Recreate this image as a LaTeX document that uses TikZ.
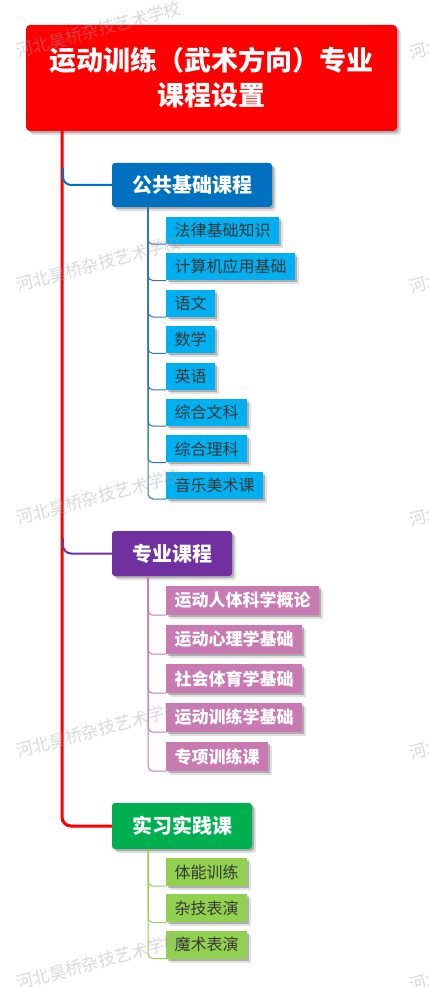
\documentclass[tikz,border=0pt]{standalone}
\usepackage{fontspec}
\newfontfamily\cjk{Noto Sans CJK SC}
\usetikzlibrary{shadows}
\definecolor{rootred}{HTML}{FF0000}
\definecolor{pubblue}{HTML}{0070C0}
\definecolor{leafblue}{HTML}{00B0F0}
\definecolor{linkblue}{HTML}{2E75B6}
\definecolor{profpurple}{HTML}{7030A0}
\definecolor{leafpink}{HTML}{C97AB2}
\definecolor{pracgreen}{HTML}{00B050}
\definecolor{leafgreen}{HTML}{92D050}
\definecolor{leaftext}{HTML}{383838}
\definecolor{wmgray}{HTML}{A0A0A0}
\begin{document}
\begin{tikzpicture}[x=1pt,y=-1pt,
  shd/.style={drop shadow={shadow xshift=4pt,shadow yshift=-4pt,opacity=0.12,fill=black},
              drop shadow={shadow xshift=2pt,shadow yshift=-2pt,opacity=0.22,fill=black}},
  rootbox/.style={shd,fill=rootred,rounded corners=4pt,minimum width=371pt,minimum height=106pt,
    text=white,align=center,font=\cjk\bfseries\fontsize{27}{35}\selectfont},
  branchbox/.style={shd,rounded corners=3pt,minimum height=45pt,inner xsep=0pt,
    text=white,font=\cjk\bfseries\fontsize{20}{24}\selectfont},
  leafbox/.style={shd,anchor=west,inner xsep=8.5pt,inner ysep=0pt,font=\cjk\fontsize{16}{19}\selectfont},
  blueleaf/.style={leafbox,fill=leafblue,text=leaftext,minimum height=27pt},
  pinkleaf/.style={leafbox,fill=leafpink,text=white,minimum height=29pt,font=\cjk\bfseries\fontsize{17}{20}\selectfont},
  greenleaf/.style={leafbox,fill=leafgreen,text=leaftext,minimum height=28pt},
  trunk/.style={rootred,line width=3pt,rounded corners=9pt},
  branchline/.style={line width=2pt,rounded corners=8pt},
  leafline/.style={line width=1pt,rounded corners=5pt},
  wm/.style={anchor=base west,rotate=15,text=wmgray,opacity=0.4,inner sep=0pt,font=\cjk\fontsize{17}{20}\selectfont}
]
\useasboundingbox[fill=white] (0,0) rectangle (428,987);

\coordinate (t0) at (62,131);
\coordinate (tb) at (63,168);
\coordinate (tp) at (63,538);
\coordinate (pubstem) at (148,207);
\coordinate (profstem) at (148,576);
\coordinate (pracstem) at (148,849);

\node[rootbox] (root) at (211.5,78) {运动训练（武术方向）专业\\课程设置};

\node[branchbox,fill=pubblue,minimum width=160pt,minimum height=44pt] (pub) at (192,185) {公共基础课程};
\node[branchbox,fill=profpurple,minimum width=120pt] (prof) at (172,553.5) {专业课程};
\node[branchbox,fill=pracgreen,minimum width=140pt,minimum height=46pt] (prac) at (182,826) {实习实践课};

% leaves
\node[blueleaf] (b1) at (166,230.5) {法律基础知识};
\node[blueleaf] (b2) at (166,266.9) {计算机应用基础};
\node[blueleaf] (b3) at (166,303.3) {语文};
\node[blueleaf] (b4) at (166,339.7) {数学};
\node[blueleaf] (b5) at (166,376.1) {英语};
\node[blueleaf] (b6) at (166,412.5) {综合文科};
\node[blueleaf] (b7) at (166,448.9) {综合理科};
\node[blueleaf] (b8) at (166,485.3) {音乐美术课};

\node[pinkleaf] (p1) at (166,600.5) {运动人体科学概论};
\node[pinkleaf] (p2) at (166,639.5) {运动心理学基础};
\node[pinkleaf] (p3) at (166,678.5) {社会体育学基础};
\node[pinkleaf] (p4) at (166,717.5) {运动训练学基础};
\node[pinkleaf] (p5) at (166,756.5) {专项训练课};

\node[greenleaf] (g1) at (166,872) {体能训练};
\node[greenleaf] (g2) at (166,908.3) {杂技表演};
\node[greenleaf] (g3) at (166,944.5) {魔术表演};

% trunk and branches
\draw[trunk] (t0) |- (prac.west);
\draw[branchline,pubblue] (tb) |- (pub.west);
\draw[branchline,profpurple] (tp) |- (prof.west);

\foreach \n in {b1,b2,b3,b4,b5,b6,b7,b8}
  \draw[leafline,linkblue] (pubstem) |- (\n.south west);
\foreach \n in {p1,p2,p3,p4,p5}
  \draw[leafline,leafpink] (profstem) |- (\n.south west);
\foreach \n in {g1,g2,g3}
  \draw[leafline,leafgreen] (pracstem) |- (\n.south west);

% watermarks
\foreach \yy in {58,292,525,758,990}{
  \node[wm] (wl\yy) at (18,\yy) {河北昊桥杂技艺术学校};
  \node[wm] (wr\yy) at (411,\yy+2) {河北昊桥杂技艺术学校};
}
\end{tikzpicture}
\end{document}
